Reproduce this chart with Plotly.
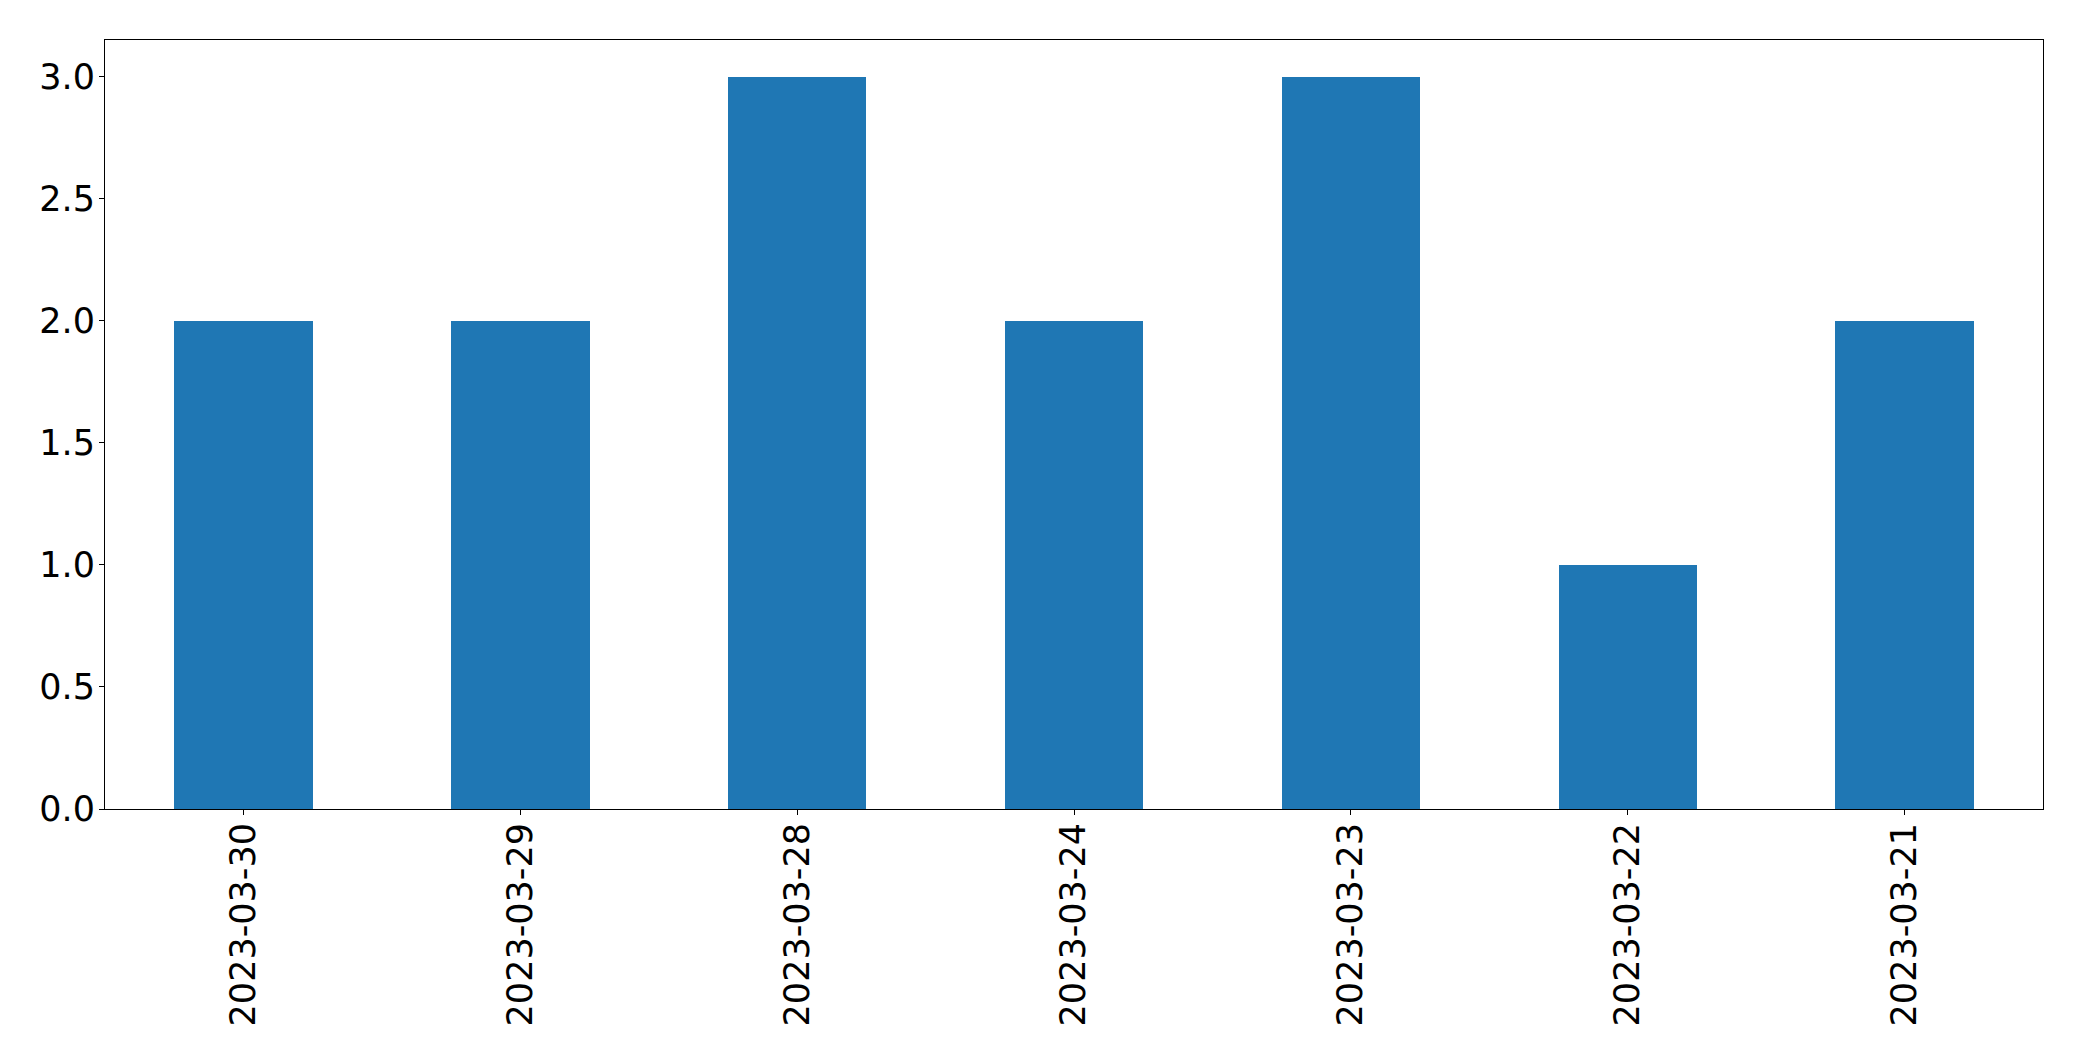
import plotly.graph_objects as go

dates = ["2023-03-30", "2023-03-29", "2023-03-28", "2023-03-24", "2023-03-23", "2023-03-22", "2023-03-21"]
counts = [2, 2, 3, 2, 3, 1, 2]
y_ticks = [0.0, 0.5, 1.0, 1.5, 2.0, 2.5, 3.0]
y_tick_labels = ["0.0", "0.5", "1.0", "1.5", "2.0", "2.5", "3.0"]

fig = go.Figure(go.Bar(x=dates, y=counts, width=0.5, marker=dict(color="#1f77b4", line=dict(width=0))))

font = dict(family="DejaVu Sans", size=35, color="black")
fig.update_layout(
    width=2066, height=1045,
    margin=dict(l=97, r=31, t=32, b=244, pad=0),
    paper_bgcolor="white", plot_bgcolor="white",
    showlegend=False,
    bargap=0,
    font=font,
)
fig.update_xaxes(
    type="category", range=[-0.5, len(dates) - 0.5],
    tickangle=-90, tickfont=font, ticklabelstandoff=-6,
    showline=True, linecolor="black", linewidth=1, mirror=True,
    ticks="outside", ticklen=5, tickcolor="black", tickwidth=1,
    showgrid=False, zeroline=False,
)
fig.update_yaxes(
    range=[0, 3.15], tickvals=y_ticks, ticktext=y_tick_labels, tickfont=font,
    ticklabelstandoff=-3,
    showline=True, linecolor="black", linewidth=1, mirror=True,
    ticks="outside", ticklen=5, tickcolor="black", tickwidth=1,
    showgrid=False, zeroline=False,
)
fig.write_html("out.html")
